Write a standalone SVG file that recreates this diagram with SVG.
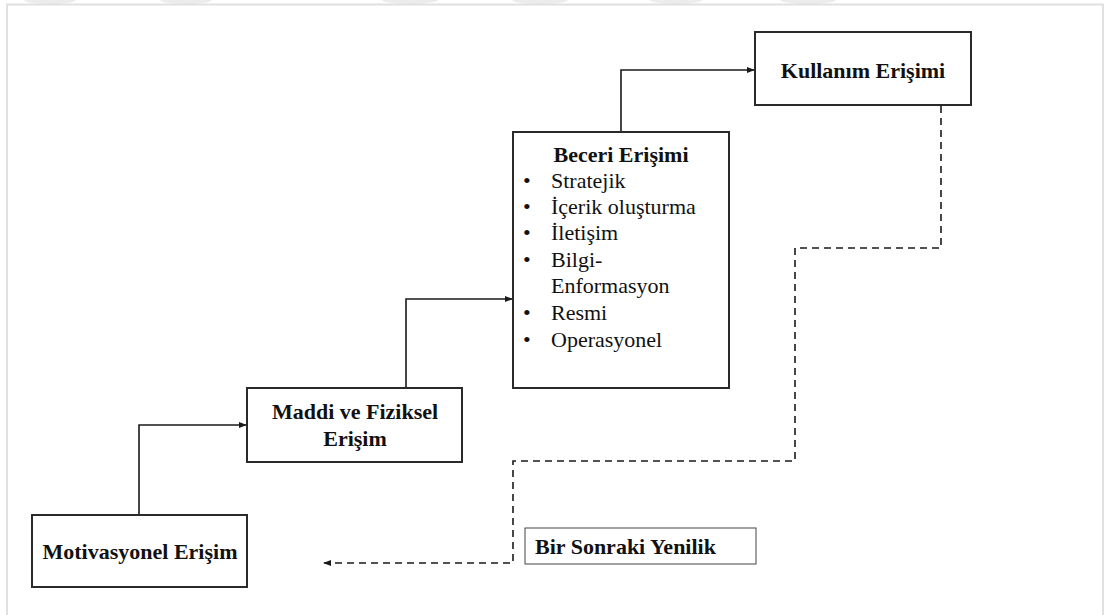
<svg xmlns="http://www.w3.org/2000/svg" width="1105" height="615" viewBox="0 0 1105 615">
<defs>
<style>
.box{fill:#fff;stroke:#2a2a2a;stroke-width:2}
.thin{fill:#fff;stroke:#444;stroke-width:1}
.t{font-size:22px;fill:#111}
.b{font-weight:bold}
.c{fill:none;stroke:#1a1a1a;stroke-width:1.6}
.d{fill:none;stroke:#1a1a1a;stroke-width:1.6;stroke-dasharray:7,5}
</style>
<marker id="ah" viewBox="0 0 10 10" refX="9" refY="5" markerWidth="8" markerHeight="8" orient="auto" markerUnits="userSpaceOnUse">
<path d="M0,1 L10,5 L0,9 z" fill="#1a1a1a"/>
</marker>
</defs>
<rect width="1105" height="615" fill="#fff"/>
<g id="frame" fill="#ececec">
<ellipse cx="50" cy="0" rx="26" ry="4"/>
<ellipse cx="186" cy="0" rx="26" ry="4"/>
<ellipse cx="410" cy="0" rx="28" ry="4"/>
<ellipse cx="540" cy="0" rx="28" ry="4"/>
<ellipse cx="676" cy="0" rx="26" ry="4"/>
<ellipse cx="808" cy="0" rx="28" ry="4"/>
<rect x="7" y="4.5" width="1096" height="620" fill="none" stroke="#e0e0e0" stroke-width="2"/>
</g>
<g id="connectors">
<path class="c" d="M139,515 V425 H246" marker-end="url(#ah)"/>
<path class="c" d="M406,388 V299 H512" marker-end="url(#ah)"/>
<path class="c" d="M621,132 V70 H754" marker-end="url(#ah)"/>
<path class="d" d="M941,106 V248 H795 V461 H513 V563 H324" marker-end="url(#ah)"/>
</g>
<g font-family="'Liberation Serif', 'Times New Roman', serif">
<g id="motivasyonel">
<rect class="box" x="32" y="515" width="215" height="72"/>
<text class="t b" x="140" y="559" text-anchor="middle">Motivasyonel Erişim</text>
</g>
<g id="maddi">
<rect class="box" x="247" y="388" width="215" height="74"/>
<text class="t b" x="355" y="419" text-anchor="middle">Maddi ve Fiziksel</text>
<text class="t b" x="355" y="446" text-anchor="middle">Erişim</text>
</g>
<g id="beceri">
<rect class="box" x="513" y="132" width="216" height="256"/>
<text class="t b" x="621" y="162" text-anchor="middle">Beceri Erişimi</text>
<g class="t">
<text x="523" y="188">•</text><text x="551" y="188">Stratejik</text>
<text x="523" y="214">•</text><text x="551" y="214">İçerik oluşturma</text>
<text x="523" y="240">•</text><text x="551" y="240">İletişim</text>
<text x="523" y="267">•</text><text x="551" y="267">Bilgi-</text>
<text x="551" y="293">Enformasyon</text>
<text x="523" y="320">•</text><text x="551" y="320">Resmi</text>
<text x="523" y="347">•</text><text x="551" y="347">Operasyonel</text>
</g>
</g>
<g id="kullanim">
<rect class="box" x="755" y="32" width="216" height="73"/>
<text class="t b" x="863" y="78" text-anchor="middle">Kullanım Erişimi</text>
</g>
<g id="yenilik">
<rect class="thin" x="525" y="528" width="231" height="36"/>
<text class="t b" x="535" y="554">Bir Sonraki Yenilik</text>
</g>
</g>
</svg>
